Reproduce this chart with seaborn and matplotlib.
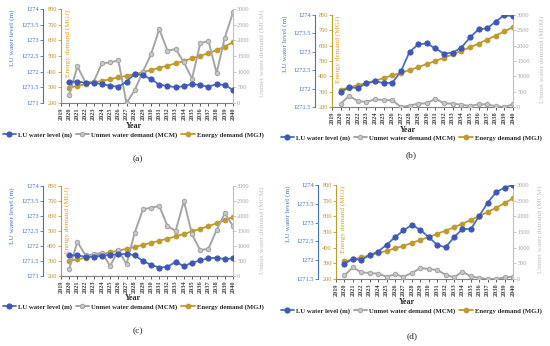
import matplotlib
matplotlib.use('Agg')
import matplotlib.pyplot as plt
import seaborn as sns

# Data
years = list(range(2020, 2041))
year_ticks = list(range(2019, 2041))

lu_a = [1271.68, 1271.68, 1271.65, 1271.63, 1271.61, 1271.55, 1271.52, 1271.68, 1271.93, 1271.88, 1271.77,
        1271.58, 1271.55, 1271.50, 1271.54, 1271.61, 1271.57, 1271.52, 1271.60, 1271.57, 1271.42]
unmet_a = [256, 1165, 652, 684, 1271, 1293, 1357, 0, 410, 1000, 1560, 2355, 1670, 1724, 1300, 780, 1905, 1980, 960, 2090, 2890]
energy_a = [298, 309, 320, 331, 341, 352, 363, 373, 384, 397, 410, 425, 438, 453, 468, 485, 502, 517, 538, 560, 588]

lu_b = [1271.91, 1272.03, 1272.02, 1272.14, 1272.20, 1272.15, 1272.16, 1272.47, 1273.00, 1273.20, 1273.23,
        1273.09, 1272.95, 1272.98, 1273.11, 1273.39, 1273.61, 1273.64, 1273.82, 1274.00, 1273.96]
unmet_b = [109, 360, 196, 164, 251, 229, 218, 0, 44, 109, 120, 273, 120, 109, 76, 33, 87, 87, 22, 0, 87]
energy_b = [313, 327, 342, 357, 372, 389, 406, 423, 441, 460, 480, 500, 521, 543, 566, 589, 614, 639, 666, 693, 720]

lu_c = [1271.69, 1271.69, 1271.64, 1271.64, 1271.67, 1271.71, 1271.72, 1271.74, 1271.69, 1271.50, 1271.37,
        1271.28, 1271.31, 1271.47, 1271.33, 1271.44, 1271.52, 1271.59, 1271.61, 1271.56, 1271.59]
unmet_c = [244, 1133, 689, 722, 778, 333, 867, 389, 1444, 2222, 2278, 2333, 1667, 1500, 2500, 1389, 856, 911, 1533, 2089, 1667]
energy_c = [300, 311, 322, 333, 345, 357, 369, 381, 394, 407, 421, 435, 449, 464, 480, 497, 514, 532, 552, 572, 594]

lu_d = [1271.91, 1272.03, 1272.01, 1272.13, 1272.23, 1272.41, 1272.61, 1272.79, 1272.94, 1272.81, 1272.61,
        1272.41, 1272.34, 1272.61, 1272.83, 1272.83, 1273.18, 1273.53, 1273.81, 1273.93, 1274.00]
unmet_d = [117, 371, 212, 191, 170, 74, 148, 74, 191, 350, 318, 286, 138, 53, 233, 85, 32, 0, 0, 53, 74]
energy_d = [312, 325, 338, 351, 365, 380, 395, 412, 430, 449, 468, 488, 509, 530, 553, 577, 602, 628, 655, 684, 715]

legend_labels = ['LU water level (m)', 'Unmet water demand (MCM)', 'Energy demand (MGJ)']

# Style
sns.set_style('ticks')
plt.rcParams['font.family'] = ['Liberation Serif', 'DejaVu Serif']

c_lu, c_lu_mk = '#4472C4', '#3F55B8'
c_un = '#A5A5A5'
c_en = '#BF9A2E'
c_en_lab = '#E39A2A'

W, H = 550, 346
fig = plt.figure(figsize=(W / 100, H / 100), dpi=100)


def fx(px):
    return px / W


def fy(py):
    return 1 - py / H


def draw_panel(box, lu_left, lu, lu_min, unmet, energy, lab_x, tag, tag_xy, year_xy, leg_xy):
    x0, y0, x1, y1 = box
    ax = fig.add_axes([fx(x0), fy(y1), (x1 - x0) / W, (y1 - y0) / H])
    ax_un = ax.twinx()
    ax_lu = ax.twinx()

    sns.lineplot(x=years, y=energy, ax=ax, color=c_en, marker='o', markersize=3.4,
                 mec=c_en, mfc=c_en, linewidth=1.3)
    sns.lineplot(x=years, y=unmet, ax=ax_un, color=c_un, marker='o', markersize=3.2,
                 mec=c_un, mfc='#C8C8C8', linewidth=1.4)
    sns.lineplot(x=years, y=lu, ax=ax_lu, color=c_lu, marker='o', markersize=3.7,
                 mec=c_lu_mk, mfc=c_lu_mk, linewidth=1.3)

    ax.set_xlim(2019, 2040)
    ax.set_xticks(year_ticks)
    ax.set_xticklabels([str(y) for y in year_ticks], rotation=90, fontsize=4.5, fontweight='bold')
    ax.set_ylim(200, 800)
    ax.set_yticks(range(200, 801, 100))
    ax_un.set_ylim(0, 3000)
    ax_un.set_yticks(range(0, 3001, 500))
    ax_lu.set_ylim(lu_min, 1274)
    lu_ticks = [lu_min + 0.5 * i for i in range(int((1274 - lu_min) / 0.5) + 1)]
    ax_lu.set_yticks(lu_ticks)
    ax_lu.set_yticklabels(['{:g}'.format(t) for t in lu_ticks])

    for a in (ax, ax_un, ax_lu):
        a.set_xlabel('')
        a.set_ylabel('')
        a.spines['top'].set_visible(False)

    ax.spines['right'].set_visible(False)
    ax.spines['left'].set_color(c_en)
    ax.spines['bottom'].set_color('#7F7F7F')
    for s in ('left', 'bottom'):
        ax.spines[s].set_linewidth(0.8)
    ax.tick_params(axis='y', labelsize=4.6, colors=c_en, length=2, width=0.6, pad=1)
    ax.tick_params(axis='x', labelsize=4.5, colors='#404040', length=2, width=0.6, pad=1)
    for t in ax.get_yticklabels():
        t.set_color('#B8902A')

    for s in ('left', 'bottom'):
        ax_un.spines[s].set_visible(False)
    ax_un.spines['right'].set_color('#BFBFBF')
    ax_un.spines['right'].set_linewidth(0.8)
    ax_un.tick_params(axis='y', labelsize=4.6, colors='#BFBFBF', labelcolor='#A6A6A6',
                      length=2, width=0.6, pad=1)

    ax_lu.yaxis.set_ticks_position('left')
    ax_lu.yaxis.set_label_position('left')
    ax_lu.spines['left'].set_visible(True)
    ax_lu.spines['left'].set_position(('outward', (x0 - lu_left) * 0.72))
    ax_lu.spines['left'].set_color(c_lu)
    ax_lu.spines['left'].set_linewidth(0.8)
    for s in ('right', 'bottom'):
        ax_lu.spines[s].set_visible(False)
    ax_lu.tick_params(axis='y', labelsize=4.6, colors=c_lu, length=2, width=0.6, pad=1)

    # axis titles
    fig.text(fx(lab_x[0]), fy(y0 + 1), 'LU water level (m)', rotation=90, ha='center', va='top',
             fontsize=5.2, color=c_lu)
    fig.text(fx(lab_x[1]), fy(y0 + 1), 'Energy demand (MGJ)', rotation=90, ha='center', va='top',
             fontsize=5.2, color=c_en_lab)
    fig.text(fx(lab_x[2]), fy(y0 + 1), 'Unmet water demand (MCM)', rotation=90, ha='center', va='top',
             fontsize=5.2, color='#BFBFBF')
    fig.text(fx(year_xy[0]), fy(year_xy[1]), 'Year', ha='center', va='center',
             fontsize=5.8, fontweight='bold')
    fig.text(fx(tag_xy[0]), fy(tag_xy[1]), tag, ha='center', va='center', fontsize=6.8)

    handles = [ax_lu.lines[0], ax_un.lines[0], ax.lines[0]]
    fig.legend(handles, legend_labels, loc='center', bbox_to_anchor=(fx(leg_xy[0]), fy(leg_xy[1])),
               ncol=3, frameon=False, prop={'size': 4.9, 'weight': 'bold'},
               handlelength=2.0, handletextpad=0.3, columnspacing=0.5, borderaxespad=0)


draw_panel((61, 9, 233, 103), 43, lu_a, 1271, unmet_a, energy_a, (12, 68, 262), '(a)', (138, 159), (134, 126.5), (133, 135))
draw_panel((332, 15, 513, 107), 315, lu_b, 1271.5, unmet_b, energy_b, (285, 338, 542), '(b)', (411, 155), (408, 129.5), (411, 138))
draw_panel((61, 186, 233, 276), 43, lu_c, 1271, unmet_c, energy_c, (12, 67, 262), '(c)', (138, 331), (133, 298.5), (133, 307))
draw_panel((336, 185, 513, 279), 318, lu_d, 1271.5, unmet_d, energy_d, (288, 343, 540), '(d)', (412, 336), (407, 302.5), (411, 311))

plt.savefig('out.png', dpi=100)
